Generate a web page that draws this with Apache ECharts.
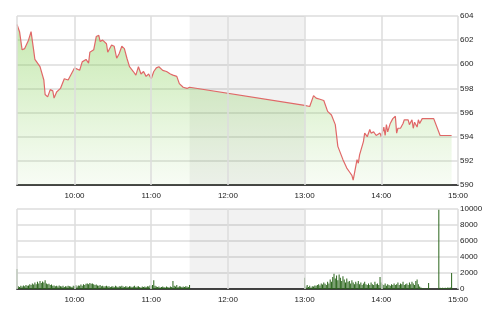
<!DOCTYPE html>
<html>
<head>
<meta charset="utf-8">
<script src="https://cdn.jsdelivr.net/npm/echarts@6/dist/echarts.min.js"></script>
<style>html,body{margin:0;padding:0;background:#fff;}#c{width:500px;height:312px;}</style>
</head>
<body>
<div id="c"></div>
<script>
// ---- data ----
const sessionStart = '9:15';
const sessionEnd = '15:00';
const lunchStart = '11:30';
const lunchEnd = '13:00';
const hourTicks = ['10:00','11:00','12:00','13:00','14:00','15:00'];
const priceTicks = [590, 592, 594, 596, 598, 600, 602, 604];
const volumeTicks = [0, 2000, 4000, 6000, 8000, 10000];

const priceTimesAM = ['9:15','9:17','9:19','9:21','9:24','9:26','9:28','9:29','9:33','9:36',
  '9:37','9:39','9:41','9:43','9:44','9:46','9:49','9:52','9:55','9:58',
  '10:00','10:04','10:06','10:09','10:11','10:12','10:15','10:17','10:19','10:20',
  '10:22','10:25','10:26','10:29','10:31','10:33','10:35','10:37','10:39','10:41',
  '10:43','10:46','10:48','10:50','10:52','10:54','10:56','10:58','11:00','11:02',
  '11:04','11:06','11:09','11:12','11:15','11:17','11:20','11:22','11:25','11:28','11:30'];
const pricesAM = [603.3,602.7,601.2,601.3,602.0,602.7,601.2,600.4,599.8,598.7,
  597.5,597.3,597.9,597.8,597.2,597.7,598.0,598.8,598.7,599.3,
  599.7,599.5,600.2,600.4,600.1,601.0,601.2,602.3,602.4,601.9,
  602.0,601.7,601.0,601.6,601.5,600.5,600.9,601.5,601.3,600.5,
  599.8,599.4,599.1,599.8,599.2,599.4,599.0,599.2,598.8,599.4,
  599.7,599.8,599.5,599.4,599.2,599.1,599.0,598.4,598.1,598.0,598.1];
const priceTimesPM = ['13:00','13:04','13:05','13:07','13:09','13:12','13:13','13:15','13:18','13:21',
  '13:24','13:26','13:30','13:33','13:35','13:37','13:38','13:39','13:41','13:42',
  '13:43','13:46','13:47','13:49','13:51','13:52','13:54','13:56','13:59','14:00',
  '14:02','14:03','14:04','14:05','14:07','14:09','14:11','14:12','14:13','14:15',
  '14:17','14:18','14:21','14:22','14:24','14:25','14:26','14:28','14:29','14:30',
  '14:32','14:41','14:46','14:55'];
const pricesPM = [596.6,596.5,596.4,597.4,597.2,597.1,597.2,597.0,596.1,595.8,
  595.0,593.2,592.1,591.4,591.1,590.8,590.4,590.4,592.1,591.8,
  592.5,593.6,594.3,594.0,594.6,594.3,594.4,594.1,594.3,594.0,
  594.8,594.1,595.0,594.4,595.1,595.5,595.7,594.3,594.7,594.7,
  595.1,595.4,595.4,595.0,595.4,594.7,595.2,594.8,595.4,595.1,
  595.5,595.5,594.1,594.1];

// per-minute volume, morning from 9:15, afternoon from 13:00
const volumeStartAM = '9:15';
const volumesAM = [2500,
  350,250,400,300,450,350,500,400,450,
  600,500,700,550,800,600,900,700,1000,750,
  950,800,1100,700,600,650,500,550,400,450,
  350,400,300,450,350,300,400,250,350,300,
  400,350,300,250,400,350,500,300,450,400,
  550,400,600,500,650,700,600,750,650,700,
  600,500,550,450,400,500,350,400,300,350,
  400,300,350,250,300,350,250,400,300,250,
  350,300,400,300,250,350,300,250,350,300,
  250,300,400,250,300,350,250,200,300,250,
  300,250,350,300,450,400,500,1100,400,300,
  250,300,200,250,300,250,200,300,250,200,
  300,250,1000,400,300,500,250,350,300,250,
  300,250,350,300,250,500];
const volumeStartPM = '13:00';
const volumesPM = [1400,
  300,500,250,400,200,350,300,450,400,
  500,600,450,700,550,800,650,500,900,700,
  1200,900,1500,1900,1300,1700,1100,1800,1400,1000,
  1600,1200,800,1300,900,1000,700,1100,800,600,
  900,700,1000,600,800,500,700,900,600,500,
  700,500,800,600,500,900,600,700,500,1500,
  800,600,500,700,400,600,500,400,600,500,
  700,500,600,800,500,700,600,900,500,600,
  700,500,800,600,900,700,500,1000,1200,600,
  300,200,100,50,50,50,50,750,50,0,
  0,0,0,0,0,9900,150,100,150,100,
  150,100,200,150,200,2000];

// ---- build ----
const toMin = s => { const p = s.split(':').map(Number); return p[0] * 60 + p[1]; };
const fmtMin = v => Math.floor(v / 60) + ':' + String(v % 60).padStart(2, '0');

const priceData = priceTimesAM.map((t, i) => [toMin(t), pricesAM[i]])
  .concat(priceTimesPM.map((t, i) => [toMin(t), pricesPM[i]]));
const volData = volumesAM.map((v, i) => [toMin(volumeStartAM) + i, v])
  .concat(volumesPM.map((v, i) => [toMin(volumeStartPM) + i, v]));

const xMin = toMin(sessionStart), xMax = toMin(sessionEnd);
const hourVals = hourTicks.map(toMin);
const gridLineColor = '#dcdcdc';
const vLines = [xMin].concat(hourVals).map(v => ({ xAxis: v }));
const lunchArea = [[{ xAxis: toMin(lunchStart) }, { xAxis: toMin(lunchEnd) }]];

const labelStyle = { fontSize: 8, color: '#222', fontFamily: 'Liberation Sans, Arial, sans-serif' };

function xAxisCfg(gi) {
  return {
    gridIndex: gi, type: 'value', min: xMin, max: xMax, interval: 15,
    axisLine: { show: true, onZero: false, lineStyle: { color: '#444', width: 2 } },
    axisTick: { show: false },
    splitLine: { show: false },
    axisLabel: Object.assign({}, labelStyle, {
      margin: 7,
      formatter: v => (hourVals.indexOf(v) >= 0 ? fmtMin(v) : '')
    })
  };
}
function yAxisCfg(gi, ticks) {
  return {
    gridIndex: gi, type: 'value', position: 'right',
    min: ticks[0], max: ticks[ticks.length - 1], interval: ticks[1] - ticks[0],
    axisLine: { show: false }, axisTick: { show: false },
    splitLine: { lineStyle: { color: gridLineColor, width: 1.5 } },
    axisLabel: Object.assign({}, labelStyle, { margin: 2, formatter: v => String(v) })
  };
}
const markLineCfg = {
  silent: true, symbol: ['none', 'none'], label: { show: false },
  lineStyle: { color: gridLineColor, width: 1.5, type: 'solid' },
  data: vLines
};
const markAreaCfg = {
  silent: true, itemStyle: { color: 'rgba(0,0,0,0.05)' }, data: lunchArea
};

const chart = echarts.init(document.getElementById('c'), null, { renderer: 'canvas' });
chart.setOption({
  animation: false,
  backgroundColor: '#fff',
  grid: [
    { left: 17, right: 42, top: 16, height: 169 },
    { left: 17, right: 42, top: 209, height: 80 }
  ],
  xAxis: [xAxisCfg(0), xAxisCfg(1)],
  yAxis: [yAxisCfg(0, priceTicks), yAxisCfg(1, volumeTicks)],
  series: [
    {
      type: 'line', xAxisIndex: 0, yAxisIndex: 0, data: priceData,
      symbol: 'none', smooth: false,
      lineStyle: { color: '#e06868', width: 1.2 },
      areaStyle: {
        origin: 'start',
        color: new echarts.graphic.LinearGradient(0, 0, 0, 1, [
          { offset: 0, color: 'rgba(115,200,60,0.58)' },
          { offset: 0.5, color: 'rgba(125,205,75,0.34)' },
          { offset: 1, color: 'rgba(150,215,110,0.1)' }
        ])
      },
      markLine: markLineCfg, markArea: markAreaCfg
    },
    {
      type: 'bar', xAxisIndex: 1, yAxisIndex: 1, data: volData,
      barWidth: 1, itemStyle: { color: '#2a651b' },
      markLine: markLineCfg, markArea: markAreaCfg
    }
  ]
});
</script>
</body>
</html>
